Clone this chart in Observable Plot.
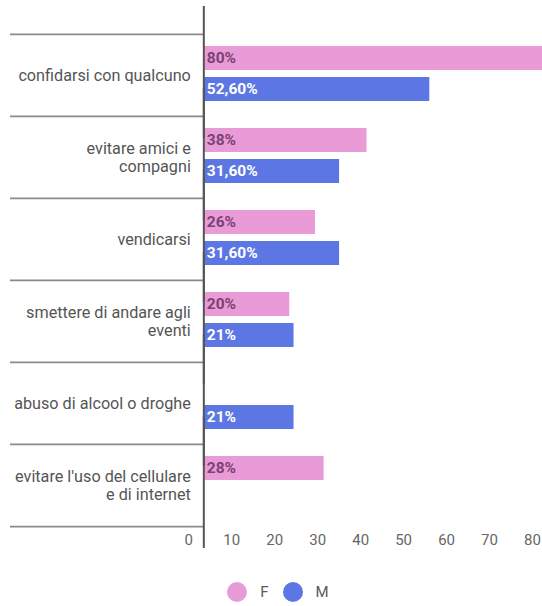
<!DOCTYPE html>
<html>
<head>
<meta charset="utf-8">
<script src="https://cdn.jsdelivr.net/npm/d3@7"></script>
<script src="https://cdn.jsdelivr.net/npm/@observablehq/plot@0.6"></script>
<style>
  html, body { margin: 0; padding: 0; background: #fff; }
  body { width: 542px; height: 606px; overflow: hidden; font-family: Roboto, "Noto Sans", sans-serif; }
  #legend { display: flex; justify-content: center; align-items: center; height: 20px; margin-top: 17px; padding-left: 14px; font-size: 15px; color: #5a5a5a; }
  #legend .item { display: flex; align-items: center; margin: 0 7px; }
  #legend .sw { width: 20px; height: 20px; border-radius: 50%; display: inline-block; margin-right: 13px; }
</style>
</head>
<body>
<div id="chart"></div>
<div id="legend"></div>
<script>
// ---- data ----
const categories = [
  "confidarsi con qualcuno",
  "evitare amici e\ncompagni",
  "vendicarsi",
  "smettere di andare agli\neventi",
  "abuso di alcool o droghe",
  "evitare l'uso del cellulare\ne di internet"
];
const seriesNames = ["F", "M"];
const valuesF = [80, 38, 26, 20, null, 28];
const valuesM = [52.6, 31.6, 31.6, 21, 21, null];
const labelsF = ["80%", "38%", "26%", "20%", null, "28%"];
const labelsM = ["52,60%", "31,60%", "31,60%", "21%", "21%", null];
const xTicks = [0, 10, 20, 30, 40, 50, 60, 70, 80];
const seriesColors = ["#e99bd8", "#5c77e3"];
const labelColors = ["#7b4172", "#ffffff"];

// ---- table for the library ----
const rows = [];
categories.forEach((c, i) => {
  if (valuesF[i] != null) rows.push({cat: c, sex: "F", value: valuesF[i], label: labelsF[i]});
  if (valuesM[i] != null) rows.push({cat: c, sex: "M", value: valuesM[i], label: labelsM[i]});
});

const W = 542, H = 565, MT = 33, MB = 39;
const xDomain = [-45, 80];
const facetH = (H - MT - MB) / categories.length;
const lineColor = "#8a8a8a";

const chart = Plot.plot({
  width: W,
  height: H,
  marginLeft: 10,
  marginRight: -5,
  marginTop: MT,
  marginBottom: MB,
  style: {fontFamily: "Roboto, 'Noto Sans', sans-serif", background: "#fff", overflow: "hidden"},
  x: {domain: xDomain, axis: null, label: null},
  y: {domain: seriesNames, paddingInner: 0.226, paddingOuter: 0.435, align: 0.45, axis: null, label: null},
  fy: {domain: categories, padding: 0, axis: null, label: null},
  color: {domain: seriesNames, range: seriesColors},
  marks: [
    // separators between categories
    Plot.ruleY(categories, {fy: d => d, y: null, x1: () => xDomain[0], x2: () => 0, dy: -facetH / 2, stroke: lineColor, strokeWidth: 1.6}),
    Plot.ruleY(categories.slice(-1), {fy: d => d, y: null, x1: () => xDomain[0], x2: () => 0, dy: facetH / 2, stroke: lineColor, strokeWidth: 1.6}),
    // bars
    Plot.barX(rows, {fy: "cat", y: "sex", x1: () => 0, x2: "value", fill: "sex"}),
    // value labels
    Plot.text(rows.filter(d => d.sex === "F"), {fy: "cat", y: "sex", x: () => 0, text: "label", textAnchor: "start", dx: 3, fill: labelColors[0], fontWeight: "bold", fontSize: 15.5}),
    Plot.text(rows.filter(d => d.sex === "M"), {fy: "cat", y: "sex", x: () => 0, text: "label", textAnchor: "start", dx: 3, fill: labelColors[1], fontWeight: "bold", fontSize: 15.5}),
    // category labels
    Plot.text(categories, {fy: d => d, x: () => 0, text: d => d, textAnchor: "end", dx: -13, fill: "#555", fontSize: 16.2, lineHeight: 1.07}),
    // vertical axis line
    Plot.ruleX(categories, {fy: d => d, x: () => 0, insetTop: -28, insetBottom: -22, stroke: "#555", strokeWidth: 2}),
    // x axis tick labels
    Plot.axisX(xTicks, {tickSize: 0, tickPadding: 8, dx: -15, fill: "#666", fontSize: 15, label: null})
  ]
});
document.getElementById("chart").appendChild(chart);

// ---- legend ----
const legend = document.getElementById("legend");
seriesNames.forEach((name, i) => {
  const item = document.createElement("div");
  item.className = "item";
  const sw = document.createElement("span");
  sw.className = "sw";
  sw.style.background = seriesColors[i];
  const t = document.createElement("span");
  t.textContent = name;
  item.appendChild(sw);
  item.appendChild(t);
  legend.appendChild(item);
});
</script>
</body>
</html>
